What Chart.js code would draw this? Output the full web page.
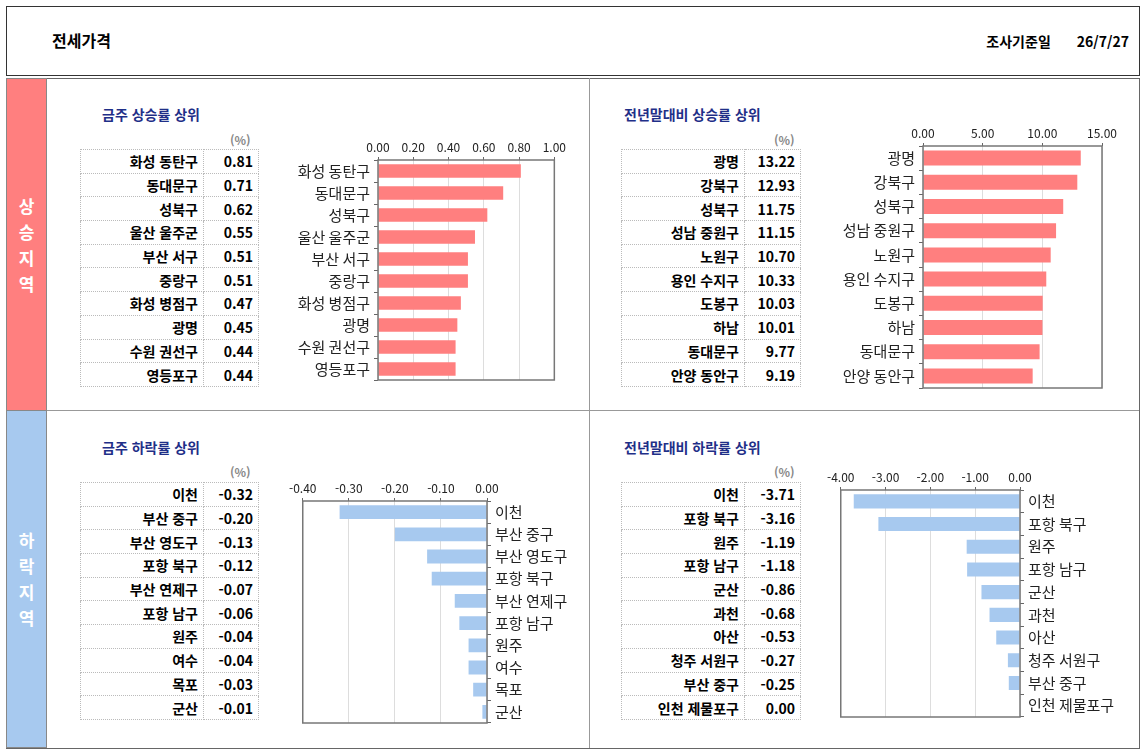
<!DOCTYPE html>
<html lang="ko">
<head>
<meta charset="UTF-8">
<title>전세가격</title>
<script src="https://cdn.jsdelivr.net/npm/chart.js"></script>
<style>
  body { margin: 0; width: 1145px; height: 756px; position: relative; background: #fff; font-family: "Noto Sans CJK KR", sans-serif; }
  .abs { position: absolute; }
  .header { left: 6px; top: 6px; width: 1132px; height: 68px; border: 1px solid #333; }
  .title { left: 52px; top: 28px; font-weight: bold; font-size: 16px; }
  .date { right: 16px; top: 31px; font-weight: bold; font-size: 14px; }
  .date span { margin-left: 26px; }
  .main { left: 6px; top: 78px; width: 1132px; height: 669px; border: 1px solid #666; }
  .band { left: 6px; width: 41px; color: #fff; font-weight: bold; font-size: 17px; text-align: center; line-height: 26px; display: flex; align-items: center; justify-content: center; border: 1px solid #888; box-sizing: border-box; }
  .sub { font-weight: bold; font-size: 14px; color: #1f2f88; }
  .pct { font-size: 12px; color: #888; font-weight: bold; }
  table { position: absolute; border-collapse: collapse; font-weight: bold; font-size: 14px; }
  td { border: 1px dotted #bbb; height: 22.7px; padding: 0 5px; text-align: right; }
  .line { background: #999; }
  .box { position: absolute; }
</style>
</head>
<body>
<div class="abs header"></div>
<div class="abs title">전세가격</div>
<div class="abs date">조사기준일<span>26/7/27</span></div>
<div class="abs main"></div>
<div class="abs band" style="top:78px;height:333px;background:#ff7f7f;">상<br>승<br>지<br>역</div>
<div class="abs band" style="top:410px;height:338px;background:#a7c9ef;">하<br>락<br>지<br>역</div>
<div class="abs line" style="left:47px;top:410px;width:1092px;height:1px;"></div>
<div class="abs line" style="left:589px;top:78px;width:1px;height:670px;"></div>

<div class="abs sub" style="left:102px;top:104px;">금주 상승률 상위</div>
<div class="abs sub" style="left:624px;top:104px;">전년말대비 상승률 상위</div>
<div class="abs sub" style="left:102px;top:437px;">금주 하락률 상위</div>
<div class="abs sub" style="left:624px;top:437px;">전년말대비 하락률 상위</div>
<div class="abs pct" style="left:230px;top:131px;">(%)</div>
<div class="abs pct" style="left:774px;top:131px;">(%)</div>
<div class="abs pct" style="left:230px;top:463px;">(%)</div>
<div class="abs pct" style="left:774px;top:463px;">(%)</div>

<table id="t1" style="left:80px;top:149px;width:179px;"></table>
<table id="t2" style="left:621px;top:149px;width:180px;"></table>
<table id="t3" style="left:80px;top:482px;width:179px;"></table>
<table id="t4" style="left:621px;top:482px;width:180px;"></table>

<div class="box" style="left:268px;top:140px;width:300px;height:253px;"><canvas id="c1"></canvas></div>
<div class="box" style="left:813px;top:126px;width:306px;height:275px;"><canvas id="c2"></canvas></div>
<div class="box" style="left:287px;top:481px;width:293px;height:255px;"><canvas id="c3"></canvas></div>
<div class="box" style="left:825px;top:470px;width:305px;height:260px;"><canvas id="c4"></canvas></div>

<script>
const weekUpNames = ['화성 동탄구', '동대문구', '성북구', '울산 울주군', '부산 서구', '중랑구', '화성 병점구', '광명', '수원 권선구', '영등포구'];
const weekUpValues = [0.81, 0.71, 0.62, 0.55, 0.51, 0.51, 0.47, 0.45, 0.44, 0.44];
const yearUpNames = ['광명', '강북구', '성북구', '성남 중원구', '노원구', '용인 수지구', '도봉구', '하남', '동대문구', '안양 동안구'];
const yearUpValues = [13.22, 12.93, 11.75, 11.15, 10.70, 10.33, 10.03, 10.01, 9.77, 9.19];
const weekDownNames = ['이천', '부산 중구', '부산 영도구', '포항 북구', '부산 연제구', '포항 남구', '원주', '여수', '목포', '군산'];
const weekDownValues = [-0.32, -0.20, -0.13, -0.12, -0.07, -0.06, -0.04, -0.04, -0.03, -0.01];
const yearDownNames = ['이천', '포항 북구', '원주', '포항 남구', '군산', '과천', '아산', '청주 서원구', '부산 중구', '인천 제물포구'];
const yearDownValues = [-3.71, -3.16, -1.19, -1.18, -0.86, -0.68, -0.53, -0.27, -0.25, 0.00];

function fillTable(id, names, values) {
  const t = document.getElementById(id);
  names.forEach((n, i) => {
    const tr = document.createElement('tr');
    tr.innerHTML = `<td style="width:112px">${n}</td><td>${values[i].toFixed(2)}</td>`;
    t.appendChild(tr);
  });
}
fillTable('t1', weekUpNames, weekUpValues);
fillTable('t2', yearUpNames, yearUpValues);
fillTable('t3', weekDownNames, weekDownValues);
fillTable('t4', yearDownNames, yearDownValues);

const frame = {
  id: 'frame',
  afterDraw(chart) {
    const a = chart.chartArea, c = chart.ctx;
    c.save();
    c.strokeStyle = '#777';
    c.lineWidth = 1.5;
    c.strokeRect(a.left, a.top, a.right - a.left, a.bottom - a.top);
    c.restore();
  }
};

function makeChart(id, names, values, color, xmin, xmax, step, yWidth, right) {
  new Chart(document.getElementById(id), {
    type: 'bar',
    data: { labels: names, datasets: [{ data: values, backgroundColor: color, barPercentage: 0.62, categoryPercentage: 1 }] },
    options: {
      indexAxis: 'y',
      responsive: true,
      maintainAspectRatio: false,
      animation: false,
      layout: { padding: { top: 0, bottom: 4, right: right ? 0 : 10, left: right ? 10 : 0 } },
      plugins: { legend: { display: false }, tooltip: { enabled: false } },
      scales: {
        x: {
          position: 'top', min: xmin, max: xmax,
          ticks: { stepSize: step, color: '#222', font: { size: 12, family: 'Noto Sans CJK KR' }, callback: v => v.toFixed(2), padding: 2 },
          grid: { color: '#ddd', drawTicks: true, tickLength: 3, tickColor: '#666' },
          border: { display: false },
          afterFit: s => { s.height = 20; }
        },
        y: {
          position: right ? 'right' : 'left',
          ticks: { color: '#222', font: { size: 15, family: 'Noto Sans CJK KR' }, padding: 4 },
          grid: { offset: true, drawOnChartArea: false, tickLength: 4, tickColor: '#666' },
          border: { display: false },
          afterFit: s => { s.width = yWidth; }
        }
      }
    },
    plugins: [frame]
  });
}

makeChart('c1', weekUpNames, weekUpValues, '#ff7f7f', 0, 1, 0.2, 110, false);
makeChart('c2', yearUpNames, yearUpValues, '#ff7f7f', 0, 15, 5, 110, false);
makeChart('c3', weekDownNames, weekDownValues, '#a7c9ef', -0.4, 0, 0.1, 93, true);
makeChart('c4', yearDownNames, yearDownValues, '#a7c9ef', -4, 0, 1, 110, true);
</script>
</body>
</html>
